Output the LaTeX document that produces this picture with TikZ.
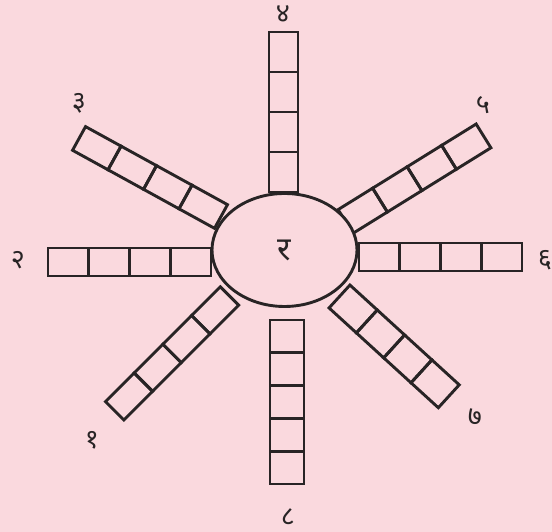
\documentclass[tikz,border=0pt]{standalone}
\usepackage{fontspec}
\newfontfamily\devfont[Script=Devanagari]{Noto Sans}
\usetikzlibrary{shapes.geometric}
\definecolor{bgpink}{RGB}{250,217,222}
\definecolor{inkline}{RGB}{40,36,37}

\begin{document}
\begin{tikzpicture}[x=1pt,y=1pt,line width=2.9pt]
  \tikzstyle{num}=[font=\devfont\fontsize{27}{30}\selectfont,text=inkline,inner sep=0pt]
  \tikzstyle{cell}=[draw=inkline]
  \fill[bgpink] (0,0) rectangle (552,532);
  \useasboundingbox (0,0) rectangle (552,532);
  \foreach \px/\py/\ang/\n/\len/\wd in {283.5/340/90/4/40/29,
      345.5/310.5/31.8/4/40.6/28,
      359/275/0/4/40.75/28,
      339.5/235.5/-42.4/4/37/31,
      287/212/-90/5/32.8/34,
      229.5/236/-135/4/40.6/26,
      211/270/180/4/40.75/28,
      221/315.5/151.2/4/40.5/27}{
    \begin{scope}[shift={(\px,\py)},rotate=\ang]
      \foreach \k in {1,...,\n}
        \draw[cell] ({(\k-1)*\len},-\wd/2) rectangle ({\k*\len},\wd/2);
    \end{scope}
  }
  \node[draw=inkline,ellipse,fill=bgpink,minimum width=145,minimum height=113,num,font=\devfont\fontsize{33}{36}\selectfont] (mul) at (284.5,282) {र};
  \node[num] (ank1) at (92,92) {१};
  \node[num] (ank2) at (18,272) {२};
  \node[num] (ank3) at (79,429) {३};
  \node[num] (ank4) at (283,518) {४};
  \node[num] (ank5) at (483,427) {५};
  \node[num] (ank6) at (545,272) {६};
  \node[num] (ank7) at (475,115) {७};
  \node[num] (ank8) at (288,15) {८};
\end{tikzpicture}
\end{document}
